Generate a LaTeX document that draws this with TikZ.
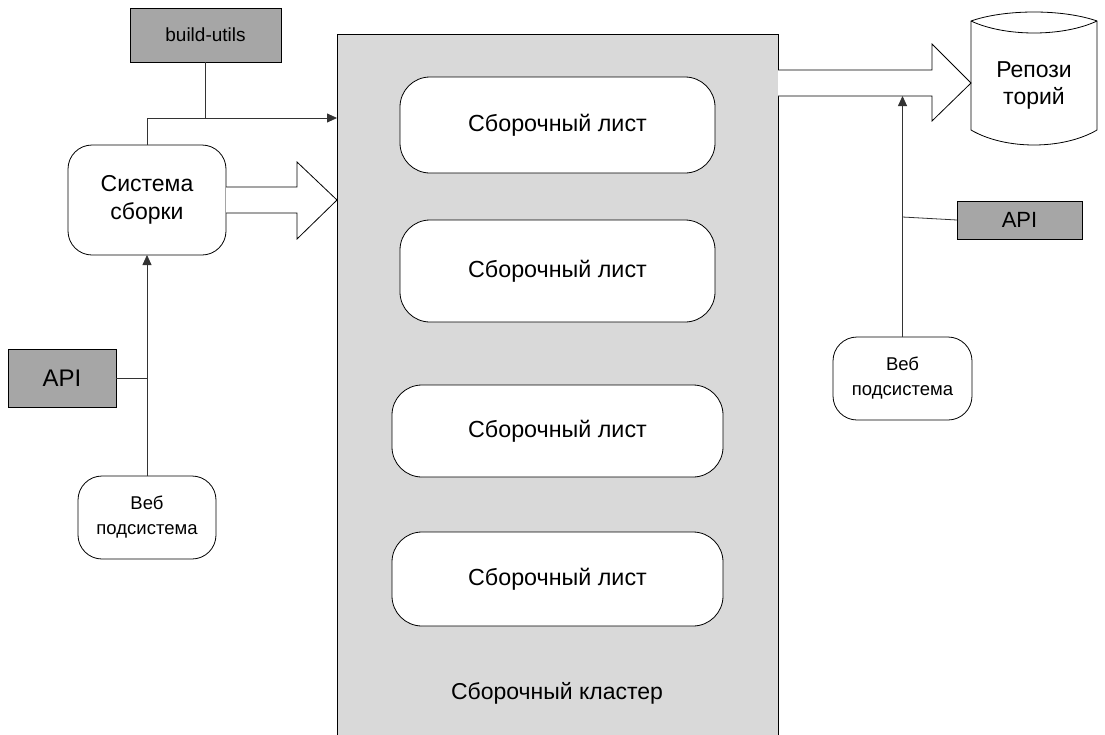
\documentclass[tikz,border=0pt]{standalone}
\usepackage{fontspec}
\setmainfont{Liberation Sans}
\usetikzlibrary{arrows.meta}
\definecolor{clgray}{HTML}{D9D9D9}
\definecolor{dkgray}{HTML}{A6A6A6}
\begin{document}
\begin{tikzpicture}[x=1pt,y=-1pt,
  every node/.style={inner sep=0pt,outer sep=0pt},
  ln/.style={line width=0.8pt,draw=black},
  sheet/.style={ln,fill=white,rounded corners=30pt,minimum width=315pt,minimum height=96pt,font=\fontsize{23.3}{28}\selectfont},
  graybox/.style={ln,fill=dkgray,rectangle},
  roundbox/.style={ln,fill=white,rounded corners=24pt,align=center},
  conn/.style={line width=0.8pt,draw=black!80},
  tip/.style={-{Triangle[length=10pt,width=9pt]}},
  block/.style={line width=0.8pt,draw=black,fill=white}
]
\useasboundingbox (0,0) rectangle (1105,734);
\fill[white] (0,0) rectangle (1105,734);

% cluster
\node[ln,fill=clgray,rectangle,minimum width=441pt,minimum height=740pt,anchor=north west] (cluster) at (337,34) {};
\node[font=\fontsize{23}{28}\selectfont] (cltext) at (557,693) {Сборочный кластер};

% sheets
\node[sheet,minimum width=315pt,minimum height=96pt] (s1) at (557.5,125) {Сборочный лист};
\node[sheet,minimum width=315pt,minimum height=102pt] (s2) at (557.5,271) {Сборочный лист};
\node[sheet,minimum width=331pt,minimum height=92pt] (s3) at (557.5,431) {Сборочный лист};
\node[sheet,minimum width=331pt,minimum height=94pt] (s4) at (557.5,579) {Сборочный лист};

% left side
\node[graybox,minimum width=151pt,minimum height=54pt,font=\fontsize{19}{23}\selectfont] (bu) at (205.5,35) {build-utils};
\node[roundbox,minimum width=158pt,minimum height=110pt,font=\fontsize{23}{28}\selectfont] (sys) at (147,200) {Система\\сборки};
\node[graybox,minimum width=108pt,minimum height=58pt,font=\fontsize{24}{28}\selectfont] (apiL) at (62,378) {API};
\node[roundbox,minimum width=138pt,minimum height=83pt,font=\fontsize{18.5}{25}\selectfont] (webL) at (147,517.5) {Веб\\подсистема};

% right side
\node[graybox,minimum width=125pt,minimum height=38pt,font=\fontsize{22}{26}\selectfont] (apiR) at (1019.5,220) {API};
\node[roundbox,minimum width=139pt,minimum height=83pt,font=\fontsize{18.5}{25}\selectfont] (webR) at (902.5,378.5) {Веб\\подсистема};

% repository cylinder
\draw[ln,fill=white] (971,21) .. controls (1005,9) and (1063,9) .. (1097,21)
  -- (1097,130) .. controls (1063,150) and (1005,150) .. (971,130) -- cycle;
\draw[ln] (971,21) .. controls (1005,37) and (1063,37) .. (1097,21);
\node[align=center,font=\fontsize{23}{27}\selectfont] (repo) at (1034,85) {Репози\\торий};

% connectors left
\coordinate (jTop) at (sys.north |- 0,118);
\coordinate (jBu) at (bu.south |- 0,118);
\draw[conn] (bu.south) -- (jBu);
\draw[conn,tip] (sys.north) -- (jTop) -- (cluster.west |- jTop);
\draw[conn,tip] (webL.north) -- (sys.south);
\coordinate (jApiL) at (webL.north |- apiL.east);
\draw[conn] (apiL.east) -- (jApiL);

% connectors right
\coordinate (rTop) at (webR.north |- 0,96);
\draw[conn,tip] (webR.north) -- (rTop);
\coordinate (jApiR) at (webR.north |- 0,217);
\draw[conn] (apiR.west) -- (jApiR);

% block arrows
\draw[block] (sys.east |- 0,187) -- (297,187) -- (297,162) -- (cluster.west |- 0,200) -- (297,239) -- (297,213) -- (sys.east |- 0,213);
\draw[block] (cluster.east |- 0,70) -- (932,70) -- (932,44) -- (971,83) -- (932,121) -- (932,96) -- (cluster.east |- 0,96);
\end{tikzpicture}
\end{document}
